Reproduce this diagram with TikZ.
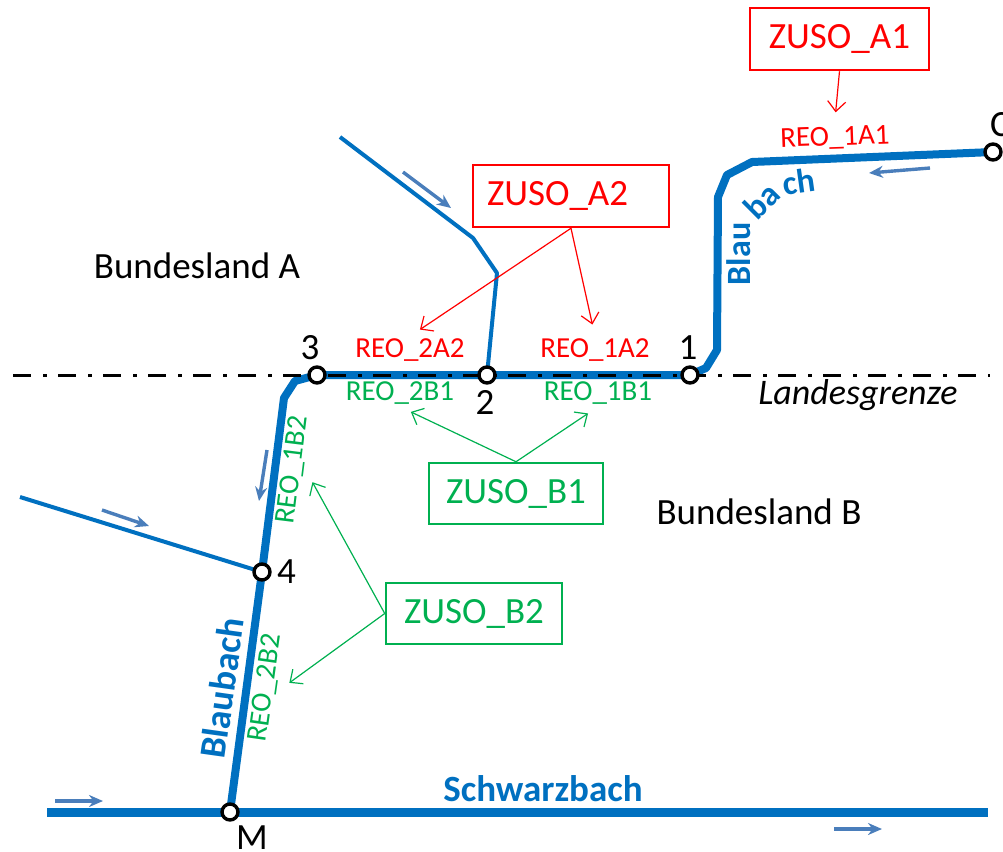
\documentclass[tikz,border=0pt]{standalone}
\usepackage{fontspec}
\setmainfont{Carlito}
\usetikzlibrary{shapes, arrows, arrows.meta, calc, positioning}
\definecolor{river}{HTML}{0070C0}
\definecolor{flow}{HTML}{4A7EBB}
\definecolor{zusored}{HTML}{FF0000}
\definecolor{zusogreen}{HTML}{00B050}

\begin{document}
\begin{tikzpicture}[>=stealth, x=0.5pt, y=-0.5pt]
	\tikzstyle{knot} = [draw, line width=1.7pt, circle, fill=white, minimum size=8pt, inner sep=0pt]
	\tikzstyle{num} = [inner sep=1pt, font=\fontsize{18.5}{20}\selectfont]
	\tikzstyle{land} = [inner sep=0pt, font=\fontsize{18.5}{20}\selectfont]
	\tikzstyle{bach} = [text=river, inner sep=0pt, font=\bfseries\fontsize{18.5}{20}\selectfont]
	\tikzstyle{bachA} = [bach, font=\bfseries\fontsize{17}{18}\selectfont]
	\tikzstyle{main} = [draw=river, line width=4pt, line join=round]
	\tikzstyle{side} = [draw=river, line width=2pt, line join=round]
	\tikzstyle{flowarrow} = [draw=flow, line width=1.7pt, -{Stealth[length=7pt, width=6pt]}]
	\tikzstyle{grenze} = [line width=1.5pt, dash pattern=on 9pt off 6pt on 2pt off 5.5pt]
	\tikzstyle{zuso} = [draw, line width=1.25pt, minimum height=31pt, inner xsep=7pt, font=\fontsize{18.5}{20}\selectfont]
	\tikzstyle{reo} = [inner sep=1pt, font=\fontsize{14.5}{16}\selectfont]
	\tikzstyle{zusoarrow} = [line width=0.6pt, shorten >=6pt, -{Straight Barb[length=5pt, width=9pt]}]

	\useasboundingbox (0,0) rectangle (1003,852);

	% Knoten
	\coordinate (k1) at (690,375);
	\coordinate (k2) at (487,375);
	\coordinate (k3) at (317,375);
	\coordinate (k4) at (262,572);
	\coordinate (kM) at (230,812);
	\coordinate (kC) at (993,152);
	\coordinate (schwarzW) at (47,812);
	\coordinate (schwarzE) at (988,812);

	% Gewaesser
	\draw[main, line width=4.5pt] (schwarzW) -- (kM) -- (schwarzE);
	\draw[side] (20,497) -- (k4);
	\draw[side] (340,137) -- (473,238) -- (497,273) -- (k2);
	\draw[main] (kC) -- (752,162) -- (727,175) -- (718,197) -- (717,350) -- (706,368) -- (k1)
		-- (k3) -- (295,381) -- (284,398) -- (k4) -- (kM);

	% Fliessrichtung
	\draw[flowarrow] (403,172) -- (451,208);
	\draw[flowarrow] (930,168) -- (869,173);
	\draw[flowarrow] (267,450) -- (259,501);
	\draw[flowarrow] (102,510) -- (149,526);
	\draw[flowarrow] (55,801) -- (103,801);
	\draw[flowarrow] (834,829) -- (882,829);

	% Landesgrenze
	\draw[grenze] (13,375) -- (990,375);

	\node[knot] (1) at (k1) {};
	\node[knot] (2) at (k2) {};
	\node[knot] (3) at (k3) {};
	\node[knot] (4) at (k4) {};
	\node[knot] (M) at (kM) {};
	\node[knot] (C) at (kC) {};

	\node[num, above=1.5pt of 3, xshift=-3.5pt] {3};
	\node[num, above=1.5pt of 1, xshift=-1pt] {1};
	\node[num, below=1.5pt of 2, xshift=-1pt] {2};
	\node[num, right=1.5pt of 4] {4};
	\node[num, below=1pt of M, xshift=11pt] {M};
	\node[num, above=1.5pt of C, xshift=3.5pt] {C};

	% Beschriftung
	\node[land] (landA) at (197,266) {Bundesland A};
	\node[land] (landB) at (759,512) {Bundesland B};
	\node[land, font=\itshape\fontsize{18}{20}\selectfont] (grenze) at (858,395) {Landesgrenze};
	\node[bach] (schwarz) at (543,789) {Schwarzbach};
	\node[bach, rotate=82] (blauB) at (222,688) {Blaubach};
	\node[bachA, rotate=90] (blauA) at (739,254) {Blau};
	\node[bachA, rotate=45] (blauAb) at (762,201) {ba};
	\node[bachA, rotate=8] (blauAc) at (799,182) {ch};

	% Regelungsorte
	\node[reo, text=zusored, rotate=2] (reo1A1) at (835,138) {REO\_1A1};
	\node[reo, text=zusored] (reo2A2) at (410,350) {REO\_2A2};
	\node[reo, text=zusored] (reo1A2) at (595,350) {REO\_1A2};
	\node[reo, text=zusogreen] (reo2B1) at (400,393) {REO\_2B1};
	\node[reo, text=zusogreen] (reo1B1) at (598,393) {REO\_1B1};
	\node[reo, text=zusogreen, rotate=83] (reo1B2) at (293,470) {REO\_1B2};
	\node[reo, text=zusogreen, rotate=82] (reo2B2) at (266,688) {REO\_2B2};

	% Zustaendigkeiten
	\node[zuso, draw=zusored, text=zusored, minimum width=89.5pt] (zusoA1) at (839.5,39) {ZUSO\_A1};
	\node[zuso, draw=zusored, text=zusored, text width=84pt, align=left] (zusoA2) at (571,196) {ZUSO\_A2};
	\node[zuso, draw=zusogreen, text=zusogreen, minimum width=87pt, minimum height=30.5pt] (zusoB1) at (516,493.5) {ZUSO\_B1};
	\node[zuso, draw=zusogreen, text=zusogreen, minimum width=88pt, minimum height=30.5pt] (zusoB2) at (474,613.5) {ZUSO\_B2};

	\path[zusoarrow]
		(zusoA1.south) edge[zusored] (reo1A1.north)
		(zusoA2.south) edge[zusored] (reo2A2.north)
		(zusoA2.south) edge[zusored] (reo1A2.north)
		(zusoB1.north) edge[zusogreen] (reo2B1.south)
		(zusoB1.north) edge[zusogreen] (reo1B1.south)
		(zusoB2.west) edge[zusogreen] (reo1B2.south)
		(zusoB2.west) edge[zusogreen] (reo2B2.south)
	;
\end{tikzpicture}
\end{document}
